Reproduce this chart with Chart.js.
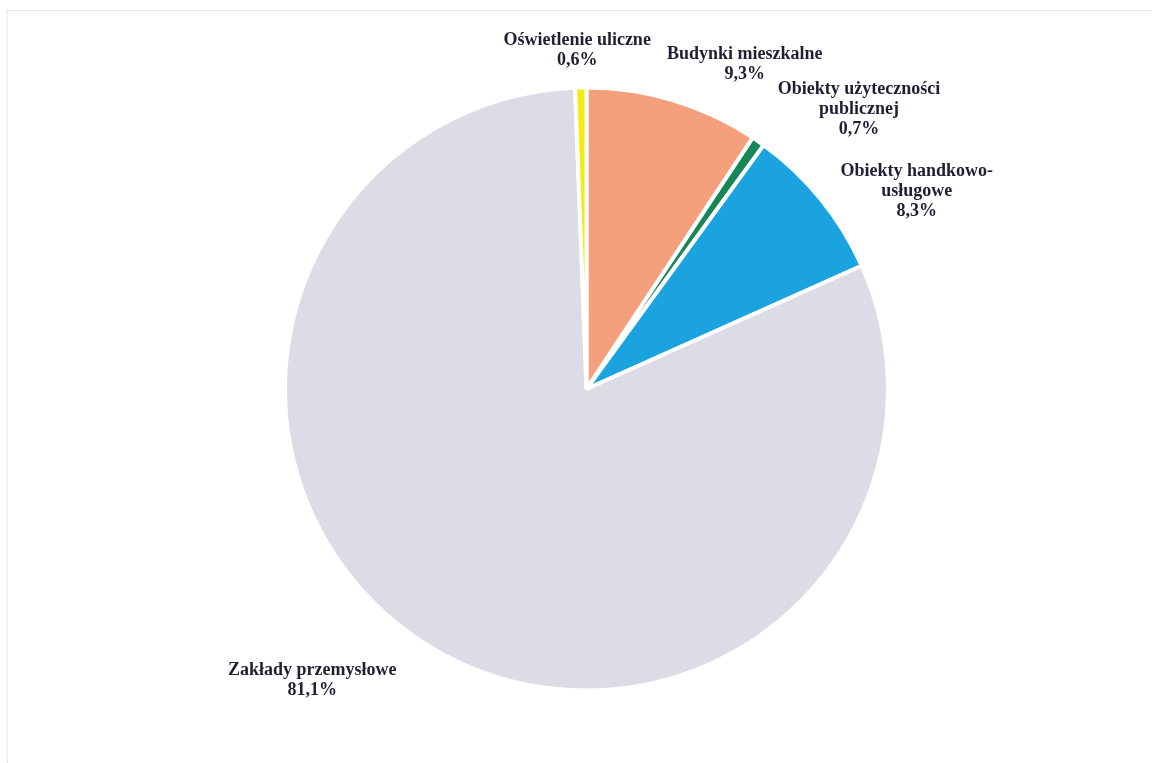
<!DOCTYPE html>
<html>
<head>
<meta charset="utf-8">
<script src="https://cdn.jsdelivr.net/npm/chart.js@4.4.1/dist/chart.umd.min.js"></script>
<style>
  html, body { margin: 0; padding: 0; background: #fff; }
  #wrap { position: relative; width: 1153px; height: 763px; }
  #frame { position: absolute; left: 7px; top: 10px; width: 1150px; height: 760px;
           border-top: 1px dotted #d8d8d8; border-left: 1px dotted #d8d8d8; }
</style>
</head>
<body>
<div id="wrap">
  <div id="frame"></div>
  <canvas id="pieChart" width="1153" height="763"></canvas>
</div>
<script>
// data (clockwise from 12 o'clock)
const categories = [
    ['Budynki mieszkalne'],
    ['Obiekty użyteczności', 'publicznej'],
    ['Obiekty handkowo-', 'usługowe'],
    ['Zakłady przemysłowe'],
    ['Oświetlenie uliczne']
];
const shares = [9.3, 0.7, 8.3, 81.1, 0.6];
const sliceColors = ['#f4a07c', '#17875a', '#1ba3df', '#dcdce6', '#f2ec12'];

// nudges of each label from its default spot outside the slice
const labelNudge = [[61, -1], [80, -2], [68, 15], [-96, 5], [-3, -1]];

const fmtPct = v => v.toFixed(1).replace('.', ',') + '%';

// draw the outside labels at each arc's mid angle
const outsideLabels = {
    id: 'outsideLabels',
    afterDatasetsDraw(chart) {
        const ctx = chart.ctx;
        const meta = chart.getDatasetMeta(0);
        ctx.save();
        ctx.font = 'bold 18px "Liberation Serif", "DejaVu Serif", serif';
        ctx.fillStyle = '#1e1f33';
        ctx.textAlign = 'center';
        ctx.textBaseline = 'middle';
        meta.data.forEach((arc, i) => {
            const mid = (arc.startAngle + arc.endAngle) / 2;
            const r = arc.outerRadius * 1.12;
            const x = arc.x + Math.cos(mid) * r + labelNudge[i][0];
            const y = arc.y + Math.sin(mid) * r + labelNudge[i][1];
            const lines = categories[i].concat([fmtPct(shares[i])]);
            const lh = 20;
            const y0 = y - (lines.length - 1) * lh / 2;
            lines.forEach((t, k) => ctx.fillText(t, x, y0 + k * lh));
        });
        ctx.restore();
    }
};

const ctx = document.getElementById('pieChart').getContext('2d');
const pieChart = new Chart(ctx, {
    type: 'pie',
    data: {
        labels: categories.map(c => c.join(' ')),
        datasets: [{
            data: shares,
            backgroundColor: sliceColors,
            borderColor: '#ffffff',
            borderWidth: 4
        }]
    },
    options: {
        responsive: false,
        animation: false,
        layout: { padding: { left: 283, right: 263, top: 85, bottom: 70 } },
        plugins: {
            legend: { display: false },
            tooltip: { enabled: false }
        }
    },
    plugins: [outsideLabels]
});
</script>
</body>
</html>
